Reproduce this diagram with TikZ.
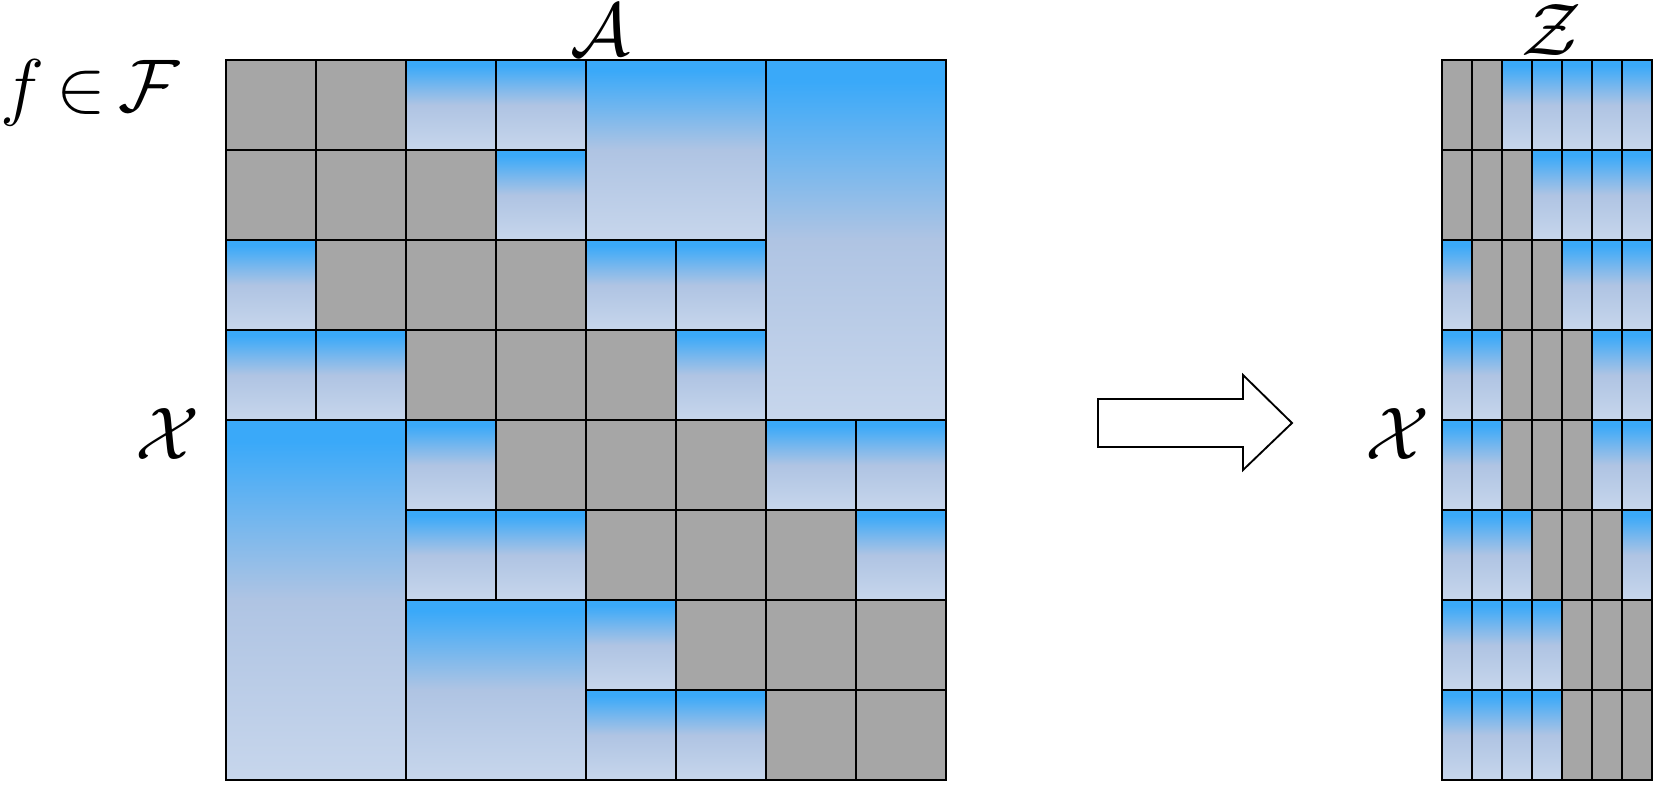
\RequirePackage{fix-cm}
\documentclass[tikz,border=0pt]{standalone}
\usepackage{amsmath}
\usepackage{amssymb}
\usepackage{tikz}

\definecolor{cellgray}{HTML}{A6A6A6}
\definecolor{blueTop}{HTML}{3AA9F9}
\definecolor{blueMid}{HTML}{AFC4E3}
\definecolor{blueBot}{HTML}{C7D6EC}

\pgfdeclareverticalshading{cellshade}{100bp}{color(0bp)=(blueBot); color(25bp)=(blueBot); color(50bp)=(blueMid); color(72bp)=(blueTop); color(100bp)=(blueTop)}

\tikzset{
  gcell/.style={draw=black, line width=1.4pt, fill=cellgray},
  bcell/.style={draw=black, line width=1.4pt, shading=cellshade},
  lab/.style={font=\fontsize{56}{67}\selectfont, inner sep=0pt}
}

\begin{document}
\begin{tikzpicture}[x=0.75pt,y=0.75pt,yscale=-1,xscale=1]
\useasboundingbox (0,0) rectangle (1656,792);

%Matrix A: big blocks
\draw[bcell] (586,60) rectangle (766,240);
\draw[bcell] (766,60) rectangle (946,420);
\draw[bcell] (226,420) rectangle (406,780);
\draw[bcell] (406,600) rectangle (586,780);
%Matrix A: row 1
\draw[gcell] (226,60) rectangle (316,150);
\draw[gcell] (316,60) rectangle (406,150);
\draw[bcell] (406,60) rectangle (496,150);
\draw[bcell] (496,60) rectangle (586,150);
%Matrix A: row 2
\draw[gcell] (226,150) rectangle (316,240);
\draw[gcell] (316,150) rectangle (406,240);
\draw[gcell] (406,150) rectangle (496,240);
\draw[bcell] (496,150) rectangle (586,240);
%Matrix A: row 3
\draw[bcell] (226,240) rectangle (316,330);
\draw[gcell] (316,240) rectangle (406,330);
\draw[gcell] (406,240) rectangle (496,330);
\draw[gcell] (496,240) rectangle (586,330);
\draw[bcell] (586,240) rectangle (676,330);
\draw[bcell] (676,240) rectangle (766,330);
%Matrix A: row 4
\draw[bcell] (226,330) rectangle (316,420);
\draw[bcell] (316,330) rectangle (406,420);
\draw[gcell] (406,330) rectangle (496,420);
\draw[gcell] (496,330) rectangle (586,420);
\draw[gcell] (586,330) rectangle (676,420);
\draw[bcell] (676,330) rectangle (766,420);
%Matrix A: row 5
\draw[bcell] (406,420) rectangle (496,510);
\draw[gcell] (496,420) rectangle (586,510);
\draw[gcell] (586,420) rectangle (676,510);
\draw[gcell] (676,420) rectangle (766,510);
\draw[bcell] (766,420) rectangle (856,510);
\draw[bcell] (856,420) rectangle (946,510);
%Matrix A: row 6
\draw[bcell] (406,510) rectangle (496,600);
\draw[bcell] (496,510) rectangle (586,600);
\draw[gcell] (586,510) rectangle (676,600);
\draw[gcell] (676,510) rectangle (766,600);
\draw[gcell] (766,510) rectangle (856,600);
\draw[bcell] (856,510) rectangle (946,600);
%Matrix A: row 7
\draw[bcell] (586,600) rectangle (676,690);
\draw[gcell] (676,600) rectangle (766,690);
\draw[gcell] (766,600) rectangle (856,690);
\draw[gcell] (856,600) rectangle (946,690);
%Matrix A: row 8
\draw[bcell] (586,690) rectangle (676,780);
\draw[bcell] (676,690) rectangle (766,780);
\draw[gcell] (766,690) rectangle (856,780);
\draw[gcell] (856,690) rectangle (946,780);

%Right Arrow
\draw[line width=1.4pt, fill=white] (1098,399) -- (1243,399) -- (1243,375) -- (1292,423) -- (1243,470) -- (1243,447) -- (1098,447) -- cycle ;

%Matrix Z: row 1
\draw[gcell] (1442,60) rectangle (1472,150);
\draw[gcell] (1472,60) rectangle (1502,150);
\draw[bcell] (1502,60) rectangle (1532,150);
\draw[bcell] (1532,60) rectangle (1562,150);
\draw[bcell] (1562,60) rectangle (1592,150);
\draw[bcell] (1592,60) rectangle (1622,150);
\draw[bcell] (1622,60) rectangle (1652,150);
%Matrix Z: row 2
\draw[gcell] (1442,150) rectangle (1472,240);
\draw[gcell] (1472,150) rectangle (1502,240);
\draw[gcell] (1502,150) rectangle (1532,240);
\draw[bcell] (1532,150) rectangle (1562,240);
\draw[bcell] (1562,150) rectangle (1592,240);
\draw[bcell] (1592,150) rectangle (1622,240);
\draw[bcell] (1622,150) rectangle (1652,240);
%Matrix Z: row 3
\draw[bcell] (1442,240) rectangle (1472,330);
\draw[gcell] (1472,240) rectangle (1502,330);
\draw[gcell] (1502,240) rectangle (1532,330);
\draw[gcell] (1532,240) rectangle (1562,330);
\draw[bcell] (1562,240) rectangle (1592,330);
\draw[bcell] (1592,240) rectangle (1622,330);
\draw[bcell] (1622,240) rectangle (1652,330);
%Matrix Z: row 4
\draw[bcell] (1442,330) rectangle (1472,420);
\draw[bcell] (1472,330) rectangle (1502,420);
\draw[gcell] (1502,330) rectangle (1532,420);
\draw[gcell] (1532,330) rectangle (1562,420);
\draw[gcell] (1562,330) rectangle (1592,420);
\draw[bcell] (1592,330) rectangle (1622,420);
\draw[bcell] (1622,330) rectangle (1652,420);
%Matrix Z: row 5
\draw[bcell] (1442,420) rectangle (1472,510);
\draw[bcell] (1472,420) rectangle (1502,510);
\draw[gcell] (1502,420) rectangle (1532,510);
\draw[gcell] (1532,420) rectangle (1562,510);
\draw[gcell] (1562,420) rectangle (1592,510);
\draw[bcell] (1592,420) rectangle (1622,510);
\draw[bcell] (1622,420) rectangle (1652,510);
%Matrix Z: row 6
\draw[bcell] (1442,510) rectangle (1472,600);
\draw[bcell] (1472,510) rectangle (1502,600);
\draw[bcell] (1502,510) rectangle (1532,600);
\draw[gcell] (1532,510) rectangle (1562,600);
\draw[gcell] (1562,510) rectangle (1592,600);
\draw[gcell] (1592,510) rectangle (1622,600);
\draw[bcell] (1622,510) rectangle (1652,600);
%Matrix Z: row 7
\draw[bcell] (1442,600) rectangle (1472,690);
\draw[bcell] (1472,600) rectangle (1502,690);
\draw[bcell] (1502,600) rectangle (1532,690);
\draw[bcell] (1532,600) rectangle (1562,690);
\draw[gcell] (1562,600) rectangle (1592,690);
\draw[gcell] (1592,600) rectangle (1622,690);
\draw[gcell] (1622,600) rectangle (1652,690);
%Matrix Z: row 8
\draw[bcell] (1442,690) rectangle (1472,780);
\draw[bcell] (1472,690) rectangle (1502,780);
\draw[bcell] (1502,690) rectangle (1532,780);
\draw[bcell] (1532,690) rectangle (1562,780);
\draw[gcell] (1562,690) rectangle (1592,780);
\draw[gcell] (1592,690) rectangle (1622,780);
\draw[gcell] (1622,690) rectangle (1652,780);

%Labels
\node[lab, anchor=base west] (fInF) at (0,111) {$\thickmuskip=3mu f\in\mathcal{F}$};
\node[lab, anchor=base] (calA) at (600,56) {$\mathcal{A}$};
\node[lab, anchor=base] (calZ) at (1552,56) {$\mathcal{Z}$};
\node[lab, anchor=base] (calXa) at (168,459) {$\mathcal{X}$};
\node[lab, anchor=base] (calXb) at (1398,459) {$\mathcal{X}$};
\end{tikzpicture}
\end{document}
